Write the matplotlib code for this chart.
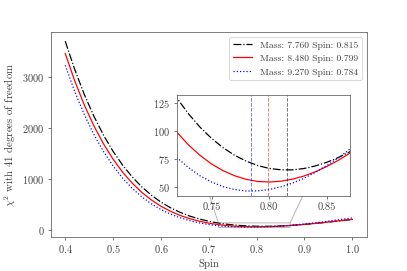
import numpy as np
import matplotlib
matplotlib.use("Agg")
import matplotlib.pyplot as plt

plt.rcParams['font.family'] = 'serif'
plt.rcParams['font.serif'] = ['cmr10', 'DejaVu Serif']
plt.rcParams['mathtext.fontset'] = 'cm'
plt.rcParams['axes.formatter.use_mathtext'] = True
plt.rcParams['axes.unicode_minus'] = False

# Spin grid
spin = [0.40, 0.42, 0.44, 0.46, 0.48, 0.50, 0.52, 0.54, 0.56, 0.58,
        0.60, 0.62, 0.64, 0.66, 0.68, 0.70, 0.71, 0.72, 0.73, 0.74,
        0.75, 0.76, 0.77, 0.78, 0.79, 0.80, 0.81, 0.82, 0.83, 0.84,
        0.85, 0.86, 0.87, 0.88, 0.89, 0.90, 0.92, 0.94, 0.96, 0.98, 1.00]

chi2_m7760 = [3700, 3141, 2651, 2225, 1855, 1537, 1265, 1034, 839, 676,
              540, 429, 339, 266, 209, 163.5, 145.0, 129.0, 115.1, 103.2,
              93.2, 84.9, 78.1, 72.9, 69.0, 66.4, 65.2, 65.1, 66.3, 68.6,
              71.9, 76.1, 81.3, 87.3, 94.1, 101.5, 118.3, 137.0, 157.3, 178.4, 200.0]

chi2_m8480 = [3458, 2917, 2445, 2036, 1684, 1383, 1127, 912, 731, 582,
              459, 359, 279, 215, 165.3, 127.2, 111.8, 98.6, 87.4, 78.1,
              70.4, 64.4, 59.9, 56.7, 54.8, 54.3, 55.0, 56.8, 59.6, 63.4,
              68.2, 73.7, 80.0, 87.0, 94.6, 102.8, 120.6, 139.8, 159.8, 180.1, 200.3]

chi2_m9270 = [3228, 2708, 2257, 1867, 1534, 1250, 1010, 810, 643, 506,
              394, 304, 232, 175.7, 132.4, 99.8, 86.9, 76.1, 67.2, 59.9,
              54.3, 50.2, 47.55, 46.3, 46.4, 47.65, 49.97, 53.3, 57.6, 62.9,
              69.0, 75.9, 83.6, 92.0, 101.1, 110.8, 131.8, 154.7, 179.0, 204.3, 230.3]

labels = ['Mass: 7.760 Spin: 0.815', 'Mass: 8.480 Spin: 0.799', 'Mass: 9.270 Spin: 0.784']
best_spin = [0.815, 0.799, 0.784]
colors = ['black', 'red', 'blue']
styles = ['-.', '-', ':']
series = [chi2_m7760, chi2_m8480, chi2_m9270]

inset_xlim = (0.72, 0.87)
inset_ylim = (42, 132)
inset_xticks = [0.75, 0.80, 0.85]
inset_yticks = [50, 75, 100, 125]

fig = plt.figure(figsize=(6, 4), dpi=407 / 6)
ax = fig.add_axes([0.125, 0.127, 0.776, 0.754])

for y, c, ls, lab in zip(series, colors, styles, labels):
    ax.plot(spin, y, color=c, linestyle=ls, linewidth=1.3, label=lab)

ax.set_xlabel('Spin', fontsize=11.5, color='0.25')
ax.set_ylabel(r'$\chi^2$ with 41 degrees of freedom', fontsize=11.5, color='0.25')
ax.set_xticks([0.4, 0.5, 0.6, 0.7, 0.8, 0.9, 1.0])
ax.set_yticks([0, 1000, 2000, 3000])
ax.tick_params(labelsize=11, colors='0.3', labelcolor='0.25')
for sp in ax.spines.values():
    sp.set_color('0.35')
leg = ax.legend(loc='upper right', fontsize=10.2, labelcolor='0.25')
leg.get_frame().set_edgecolor('0.8')

axins = ax.inset_axes([0.399, 0.199, 0.548, 0.494])
for y, c, ls in zip(series, colors, styles):
    axins.plot(spin, y, color=c, linestyle=ls, linewidth=1.3)
for b, c in zip(best_spin, colors):
    axins.axvline(b, color=c, linestyle='--', linewidth=1.0, alpha=0.55)
axins.set_xlim(*inset_xlim)
axins.set_ylim(*inset_ylim)
axins.set_xticks(inset_xticks)
axins.set_xticklabels(['%.2f' % t for t in inset_xticks])
axins.set_yticks(inset_yticks)
axins.tick_params(labelsize=11, colors='0.3', labelcolor='0.25')
for sp in axins.spines.values():
    sp.set_color('0.35')
ax.indicate_inset_zoom(axins, edgecolor='0.4')

fig.savefig('out.png', dpi=407 / 6)
